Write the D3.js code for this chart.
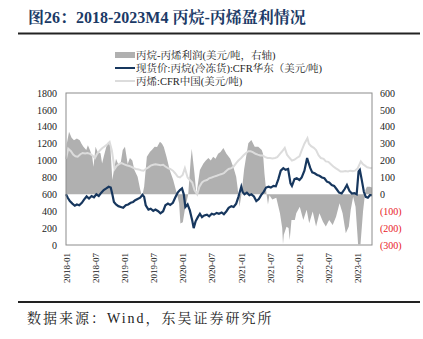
<!DOCTYPE html>
<html><head><meta charset="utf-8">
<script src="https://cdn.jsdelivr.net/npm/d3@7/dist/d3.min.js"></script>
<style>
html,body{margin:0;padding:0;background:#fff;}
svg{display:block;}
</style></head>
<body>
<svg id="c" width="423" height="339"></svg>
<script>
const titleText = "图26：2018-2023M4 丙烷-丙烯盈利情况";
const sourceText = "数据来源：Wind，东吴证券研究所";
const legendLabels = ["丙烷-丙烯利润(美元/吨，右轴)", "现货价:丙烷(冷冻货):CFR华东（美元/吨)", "丙烯:CFR中国(美元/吨)"];
const leftTicks = [0,200,400,600,800,1000,1200,1400,1600,1800];
const rightTicks = [-300,-200,-100,0,100,200,300,400,500,600];
const xTicks = ["2018-01","2018-07","2019-01","2019-07","2020-01","2020-07","2021-01","2021-07","2022-01","2022-07","2023-01"];

// 丙烷-丙烯利润 (right axis, USD/t)
const profit = [
["2018-01-01",200],["2018-01-06",300],["2018-01-20",370],["2018-02-05",335],["2018-02-20",320],["2018-03-10",330],["2018-03-28",320],
["2018-04-08",300],["2018-04-20",282],["2018-05-08",262],["2018-05-18",290],["2018-06-01",260],["2018-06-14",223],["2018-06-22",164],
["2018-07-05",282],["2018-07-18",250],["2018-08-05",243],["2018-08-15",183],["2018-08-25",223],["2018-09-10",280],["2018-09-22",302],
["2018-10-05",290],["2018-10-18",85],["2018-10-28",144],["2018-11-10",210],["2018-11-25",175],["2018-12-10",190],["2018-12-22",262],
["2019-01-05",282],["2019-01-22",180],["2019-02-05",215],["2019-02-20",200],["2019-03-05",144],["2019-03-25",104],["2019-04-10",30],
["2019-04-22",-15],["2019-05-05",45],["2019-05-22",223],["2019-06-10",250],["2019-06-25",265],["2019-07-10",282],["2019-07-25",280],
["2019-08-12",312],["2019-08-25",300],["2019-09-05",280],["2019-09-22",223],["2019-10-12",144],["2019-11-03",85],["2019-11-25",6],
["2019-12-10",-53],["2019-12-18",-172],["2020-01-02",-165],["2020-01-15",-90],["2020-02-05",0],["2020-02-20",200],["2020-02-27",270],
["2020-03-06",200],["2020-03-15",124],["2020-03-27",0],["2020-04-18",144],["2020-05-10",183],["2020-05-25",200],["2020-06-10",215],
["2020-06-25",200],["2020-07-10",223],["2020-07-25",210],["2020-08-10",240],["2020-08-25",250],["2020-09-12",274],["2020-10-01",240],
["2020-10-25",210],["2020-11-15",156],["2020-12-01",104],["2020-12-10",37],["2020-12-22",-73],["2021-01-03",0],["2021-01-20",150],
["2021-02-15",302],["2021-03-06",321],["2021-03-27",282],["2021-04-18",282],["2021-05-10",262],["2021-05-18",240],["2021-05-27",124],
["2021-06-09",0],["2021-06-18",-60],["2021-06-27",-5],["2021-07-15",-30],["2021-08-09",-20],["2021-09-01",-112],["2021-09-15",-200],
["2021-09-20",-295],["2021-09-25",-240],["2021-10-12",-192],["2021-10-25",-200],["2021-11-01",-270],["2021-11-12",-152],["2021-12-03",-152],
["2021-12-12",-112],["2022-01-03",-73],["2022-01-25",-152],["2022-02-15",-92],["2022-03-03",-171],["2022-03-25",-102],["2022-04-15",-191],
["2022-05-06",-112],["2022-05-28",-162],["2022-06-15",-191],["2022-07-06",-152],["2022-07-28",-181],["2022-08-18",-132],["2022-09-09",-53],
["2022-09-28",-112],["2022-10-18",-230],["2022-11-06",-191],["2022-11-18",-92],["2022-12-03",-14],["2022-12-18",-73],["2023-01-03",-295],
["2023-01-18",-295],["2023-02-03",-100],["2023-02-18",25],["2023-02-27",45],["2023-03-18",45],["2023-03-31",40]
];

// 现货价:丙烷(冷冻货):CFR华东 (left axis, USD/t)
const propane = [
["2018-01-01",600],["2018-01-12",560],["2018-01-25",520],["2018-02-10",490],["2018-02-25",465],["2018-03-10",480],["2018-03-25",470],
["2018-04-10",500],["2018-04-25",540],["2018-05-10",575],["2018-05-25",550],["2018-06-10",580],["2018-06-25",565],["2018-07-10",600],
["2018-07-25",580],["2018-08-10",620],["2018-08-25",650],["2018-09-10",670],["2018-09-25",690],["2018-10-08",680],["2018-10-18",600],
["2018-10-28",510],["2018-11-10",480],["2018-11-25",460],["2018-12-10",450],["2018-12-25",440],["2019-01-10",470],["2019-01-25",480],
["2019-02-10",500],["2019-02-25",510],["2019-03-10",530],["2019-03-25",545],["2019-04-10",560],["2019-04-25",595],["2019-05-05",570],
["2019-05-15",470],["2019-06-01",420],["2019-06-15",430],["2019-07-01",405],["2019-07-15",420],["2019-08-01",400],["2019-08-15",375],
["2019-09-01",400],["2019-09-15",470],["2019-10-01",490],["2019-10-15",475],["2019-11-01",500],["2019-11-15",560],["2019-12-01",620],
["2019-12-15",650],["2019-12-28",670],["2020-01-08",600],["2020-01-18",450],["2020-02-01",480],["2020-02-15",410],["2020-03-01",290],
["2020-03-10",200],["2020-03-22",280],["2020-04-05",330],["2020-04-18",370],["2020-05-01",330],["2020-05-15",350],["2020-06-01",360],
["2020-06-15",340],["2020-07-01",370],["2020-07-15",360],["2020-08-01",380],["2020-08-15",370],["2020-09-01",385],["2020-09-15",365],
["2020-10-01",400],["2020-10-15",440],["2020-11-01",460],["2020-11-15",450],["2020-12-01",490],["2020-12-15",570],["2021-01-02",690],
["2021-01-10",630],["2021-01-22",600],["2021-02-06",620],["2021-02-22",590],["2021-03-06",600],["2021-03-22",575],["2021-04-06",520],
["2021-04-22",545],["2021-05-06",590],["2021-05-22",630],["2021-06-06",680],["2021-06-22",690],["2021-07-06",680],["2021-07-22",700],
["2021-08-06",695],["2021-08-22",780],["2021-09-06",880],["2021-09-22",910],["2021-10-06",890],["2021-10-22",900],["2021-11-06",730],
["2021-11-15",700],["2021-12-01",780],["2021-12-15",790],["2022-01-01",770],["2022-01-15",800],["2022-02-01",880],["2022-02-18",1030],
["2022-02-26",980],["2022-03-10",910],["2022-03-22",860],["2022-04-06",850],["2022-04-22",830],["2022-05-06",820],["2022-05-22",800],
["2022-06-06",790],["2022-06-22",750],["2022-07-06",740],["2022-07-22",710],["2022-08-06",700],["2022-08-22",660],["2022-09-06",620],
["2022-09-22",610],["2022-10-10",660],["2022-10-25",710],["2022-11-10",640],["2022-11-25",610],["2022-12-10",615],["2022-12-25",600],
["2023-01-06",870],["2023-01-14",890],["2023-01-25",780],["2023-02-08",630],["2023-02-20",570],["2023-03-05",560],["2023-03-18",590],
["2023-03-31",590]
];

// 丙烯:CFR中国 (left axis, USD/t)
const propylene = [
["2018-01-01",1020],["2018-01-15",1140],["2018-02-01",1110],["2018-02-15",1070],["2018-03-01",1050],["2018-03-15",1045],["2018-04-01",1075],
["2018-04-15",1090],["2018-05-01",1085],["2018-05-15",1090],["2018-06-01",1080],["2018-06-15",1060],["2018-07-01",1030],["2018-07-15",1080],
["2018-08-01",1120],["2018-08-15",1145],["2018-09-01",1170],["2018-09-15",1190],["2018-10-01",1220],["2018-10-15",1120],["2018-11-01",900],
["2018-11-15",940],["2018-12-01",960],["2018-12-15",970],["2019-01-01",955],["2019-01-15",945],["2019-02-01",935],["2019-02-15",925],
["2019-03-01",910],["2019-03-15",900],["2019-04-01",895],["2019-04-15",885],["2019-05-01",880],["2019-05-15",900],["2019-06-01",920],
["2019-06-15",940],["2019-07-01",950],["2019-07-15",955],["2019-08-01",950],["2019-08-15",945],["2019-09-01",950],["2019-09-15",930],
["2019-10-01",910],["2019-10-15",900],["2019-11-01",880],["2019-11-15",850],["2019-12-01",810],["2019-12-15",800],["2020-01-01",830],
["2020-01-15",910],["2020-02-01",800],["2020-02-15",770],["2020-03-01",740],["2020-03-15",650],["2020-04-01",600],["2020-04-15",690],
["2020-05-01",740],["2020-05-15",760],["2020-06-01",770],["2020-06-15",790],["2020-07-01",800],["2020-07-15",810],["2020-08-01",820],
["2020-08-15",830],["2020-09-01",840],["2020-09-15",850],["2020-10-01",880],["2020-10-15",900],["2020-11-01",910],["2020-11-15",930],
["2020-12-01",970],["2020-12-15",1000],["2021-01-01",1030],["2021-01-15",1060],["2021-02-01",1090],["2021-02-15",1110],["2021-03-01",1110],
["2021-03-15",1100],["2021-04-01",1080],["2021-04-15",1070],["2021-05-01",1060],["2021-05-15",1060],["2021-06-01",1040],["2021-06-15",1030],
["2021-07-01",1030],["2021-07-15",1025],["2021-08-01",1030],["2021-08-15",1040],["2021-09-01",1080],["2021-09-15",1110],["2021-10-01",1150],
["2021-10-15",1070],["2021-11-01",1030],["2021-11-15",1000],["2021-12-01",1010],["2021-12-15",1030],["2022-01-01",1050],["2022-01-15",1120],
["2022-02-01",1200],["2022-02-20",1265],["2022-03-01",1200],["2022-03-15",1170],["2022-04-01",1150],["2022-04-15",1125],["2022-05-01",1060],
["2022-05-15",1030],["2022-06-01",1020],["2022-06-15",990],["2022-07-01",985],["2022-07-15",960],["2022-08-01",930],["2022-08-15",910],
["2022-09-01",890],["2022-09-15",870],["2022-10-01",870],["2022-10-15",875],["2022-11-01",870],["2022-11-15",880],["2022-12-01",875],
["2022-12-15",880],["2023-01-01",910],["2023-01-20",990],["2023-02-01",960],["2023-02-15",940],["2023-03-01",920],["2023-03-15",915],
["2023-03-31",910]
];

const parse = d3.timeParse("%Y-%m-%d");
const parseM = d3.timeParse("%Y-%m");
const svg = d3.select("#c");
const L = 66, R = 372, T = 93, B = 245;

const x = d3.scaleTime().domain([parse("2018-01-01"), parse("2023-03-31")]).range([L, R]);
const yL = d3.scaleLinear().domain([0, 1800]).range([B, T]);
const yR = d3.scaleLinear().domain([-300, 600]).range([B, T]);

const serif = "'Liberation Serif','Times New Roman','Noto Serif CJK SC','Noto Sans CJK SC',serif";

// title
svg.append("text").attr("x", 28).attr("y", 23)
  .attr("font-family", serif).attr("font-size", 16).attr("font-weight", "bold")
  .attr("fill", "#1b3a66").text(titleText);
svg.append("line").attr("x1", 18).attr("x2", 420).attr("y1", 33.5).attr("y2", 33.5)
  .attr("stroke", "#222").attr("stroke-width", 2);

// profit area
const pData = profit.map(d => [parse(d[0]), d[1]]);
svg.append("path").datum(pData)
  .attr("d", d3.area().x(d => x(d[0])).y0(yR(0)).y1(d => yR(d[1])))
  .attr("fill", "#b0b0b0");

// propylene
const cData = propylene.map(d => [parse(d[0]), d[1]]);
svg.append("path").datum(cData)
  .attr("d", d3.line().x(d => x(d[0])).y(d => yL(d[1])))
  .attr("fill", "none").attr("stroke", "#dcdcdc").attr("stroke-width", 2);

// propane
const bData = propane.map(d => [parse(d[0]), d[1]]);
svg.append("path").datum(bData)
  .attr("d", d3.line().x(d => x(d[0])).y(d => yL(d[1])))
  .attr("fill", "none").attr("stroke", "#17375e").attr("stroke-width", 2.2);

// frame
svg.append("rect").attr("x", L).attr("y", T).attr("width", R - L).attr("height", B - T)
  .attr("fill", "none").attr("stroke", "#8c8c8c").attr("stroke-width", 1);

// left axis
const gl = svg.append("g").attr("transform", `translate(${L},0)`)
  .call(d3.axisLeft(yL).tickValues(leftTicks).tickSize(0).tickPadding(9).tickFormat(d3.format("d")));
gl.select(".domain").remove();
gl.selectAll("text").attr("font-family", serif).attr("font-size", 10).attr("fill", "#222");

// right axis
const gr = svg.append("g").attr("transform", `translate(${R},0)`)
  .call(d3.axisRight(yR).tickValues(rightTicks).tickSize(0).tickPadding(8)
    .tickFormat(d => d < 0 ? `(${-d})` : `${d}`));
gr.select(".domain").remove();
gr.selectAll("text").attr("font-family", serif).attr("font-size", 10)
  .attr("fill", d => d < 0 ? "#e8191e" : "#222");

// x axis
const gx = svg.append("g").attr("transform", `translate(0,${B})`)
  .call(d3.axisBottom(x).tickValues(xTicks.map(parseM)).tickSize(0).tickFormat(d3.timeFormat("%Y-%m")));
gx.select(".domain").remove();
gx.selectAll("text")
  .attr("font-family", serif).attr("font-size", 9).attr("fill", "#222")
  .attr("transform", "rotate(-90)").attr("text-anchor", "end")
  .attr("x", -8).attr("y", 0).attr("dy", "0.35em");

// legend
const lg = svg.append("g").attr("font-family", serif).attr("font-size", 10.5).attr("fill", "#222");
const ly = [55, 68, 81];
lg.append("rect").attr("x", 115).attr("y", ly[0] - 3).attr("width", 20).attr("height", 6).attr("fill", "#b0b0b0");
lg.append("line").attr("x1", 115).attr("x2", 135).attr("y1", ly[1]).attr("y2", ly[1]).attr("stroke", "#17375e").attr("stroke-width", 2);
lg.append("line").attr("x1", 115).attr("x2", 135).attr("y1", ly[2]).attr("y2", ly[2]).attr("stroke", "#dcdcdc").attr("stroke-width", 2);
legendLabels.forEach((t, i) => {
  lg.append("text").attr("x", 136).attr("y", ly[i]).attr("dy", "0.36em").text(t);
});

// source
svg.append("line").attr("x1", 18).attr("x2", 420).attr("y1", 302).attr("y2", 302)
  .attr("stroke", "#222").attr("stroke-width", 2);
svg.append("text").attr("x", 27).attr("y", 323)
  .attr("font-family", serif).attr("font-size", 14).attr("letter-spacing", 2).attr("fill", "#222")
  .text(sourceText);
</script>
</body></html>
